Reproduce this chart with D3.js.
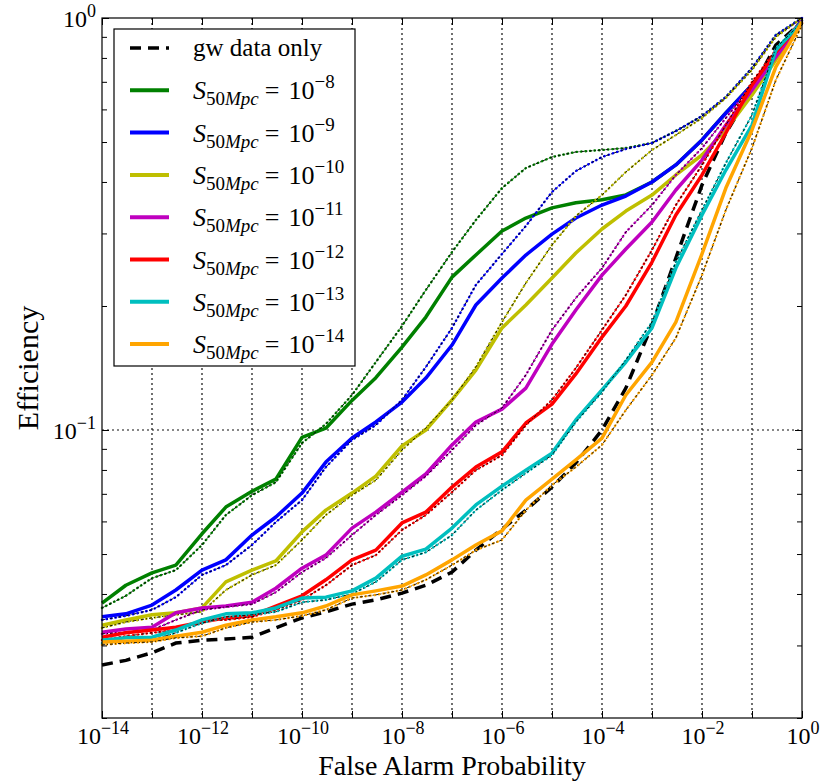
<!DOCTYPE html>
<html>
<head>
<meta charset="utf-8">
<script src="https://cdn.jsdelivr.net/npm/d3@7"></script>
<style>
  body { margin: 0; background: #fff; }
  svg { display: block; }
  text { font-family: "Liberation Serif", "DejaVu Serif", serif; fill: #000; }
</style>
</head>
<body>
<svg id="chart" width="821" height="781"></svg>
<script>
// false alarm probability grid (half decades)
var fap = [1e-14, 3e-14, 1e-13, 3e-13, 1e-12, 3e-12, 1e-11, 3e-11, 1e-10, 3e-10,
           1e-9, 3e-9, 1e-8, 3e-8, 1e-7, 3e-7, 1e-6, 3e-6, 1e-5, 3e-5,
           1e-4, 3e-4, 1e-3, 3e-3, 1e-2, 3e-2, 1e-1, 3e-1, 1];

// efficiency, gw data only
var gwOnly = [0.0269, 0.0276, 0.0288, 0.0304, 0.0309, 0.0311, 0.0314, 0.0331, 0.0350, 0.0362,
              0.0378, 0.0387, 0.0402, 0.0420, 0.0452, 0.0511, 0.0575, 0.0639, 0.0727, 0.0832,
              0.1, 0.1264, 0.1798, 0.2615, 0.3932, 0.5259, 0.6686, 0.860, 0.978];

// efficiency, thick curves
var s8 = [0.038, 0.042, 0.045, 0.047, 0.056, 0.065, 0.071, 0.076, 0.096, 0.101,
          0.118, 0.134, 0.159, 0.188, 0.235, 0.266, 0.304, 0.327, 0.346, 0.356,
          0.362, 0.372, 0.40, 0.44, 0.506, 0.588, 0.688, 0.813, 0.99];
var s9 = [0.0352, 0.0358, 0.0376, 0.0409, 0.0457, 0.0484, 0.0556, 0.0615, 0.0703, 0.0836,
          0.0956, 0.1046, 0.1169, 0.1337, 0.1608, 0.2011, 0.2338, 0.2659, 0.2989, 0.327,
          0.3516, 0.3698, 0.40, 0.44, 0.506, 0.588, 0.688, 0.813, 0.99];
var s10 = [0.0336, 0.0346, 0.0356, 0.0360, 0.0370, 0.0428, 0.0457, 0.0481, 0.0566, 0.0639,
           0.0703, 0.0773, 0.0915, 0.1, 0.1183, 0.1398, 0.1769, 0.2011, 0.2338, 0.2690,
           0.3075, 0.3400, 0.3718, 0.4159, 0.4650, 0.5348, 0.6503, 0.7908, 0.978];
var s11 = [0.0323, 0.0329, 0.0332, 0.0360, 0.0370, 0.0374, 0.0382, 0.0413, 0.0462, 0.0497,
           0.0578, 0.0632, 0.0707, 0.0782, 0.0920, 0.1046, 0.1124, 0.1264, 0.1617, 0.1956,
           0.2377, 0.2750, 0.3198, 0.3824, 0.4520, 0.5499, 0.6686, 0.8042, 0.978];
var s12 = [0.0314, 0.0322, 0.0327, 0.0332, 0.0342, 0.0350, 0.0354, 0.0374, 0.0396, 0.0433,
           0.0484, 0.0511, 0.0595, 0.0632, 0.0727, 0.0813, 0.0885, 0.1040, 0.1156, 0.1368,
           0.1681, 0.2000, 0.2557, 0.3325, 0.4159, 0.5259, 0.6877, 0.8270, 0.978];
var s13 = [0.0309, 0.0313, 0.0314, 0.0327, 0.0346, 0.0358, 0.0360, 0.0370, 0.0391, 0.0393,
           0.0407, 0.0437, 0.0494, 0.0514, 0.0578, 0.0658, 0.0731, 0.0799, 0.0879, 0.1058,
           0.1251, 0.1462, 0.1769, 0.2473, 0.3325, 0.4276, 0.5499, 0.8363, 0.978];
var s14 = [0.0306, 0.0307, 0.0309, 0.0316, 0.0323, 0.0336, 0.0346, 0.0352, 0.0360, 0.0374,
           0.0398, 0.0407, 0.0418, 0.0445, 0.0484, 0.0526, 0.0569, 0.0676, 0.0760, 0.0846,
           0.0956, 0.1216, 0.1462, 0.1828, 0.2675, 0.3866, 0.5348, 0.7605, 0.978];

// efficiency, thin dotted companions
var s8Thin = [0.0370, 0.0396, 0.0437, 0.0457, 0.0526, 0.0622, 0.0695, 0.0747, 0.0930, 0.1034,
              0.1216, 0.1462, 0.1788, 0.2187, 0.2704, 0.3233, 0.3866, 0.4324, 0.4599, 0.4730,
              0.4782, 0.4836, 0.4973, 0.5318, 0.5783, 0.6430, 0.7562, 0.9094, 1.0];
var s9Thin = [0.0346, 0.0354, 0.0366, 0.0393, 0.0445, 0.0470, 0.0526, 0.0598, 0.0676, 0.0813,
              0.0946, 0.1028, 0.1183, 0.1422, 0.1769, 0.2249, 0.2675, 0.3127, 0.3782, 0.4252,
              0.4599, 0.4809, 0.4973, 0.5318, 0.5783, 0.6430, 0.7562, 0.9094, 1.0];
var s10Thin = [0.0331, 0.0342, 0.0350, 0.0356, 0.0362, 0.0409, 0.0445, 0.0470, 0.0541, 0.0622,
               0.0695, 0.0756, 0.0894, 0.1011, 0.1183, 0.1422, 0.1828, 0.2274, 0.2812, 0.3307,
               0.3718, 0.4229, 0.4782, 0.5200, 0.5719, 0.6394, 0.7479, 0.8993, 1.0];
var s11Thin = [0.0320, 0.0323, 0.0327, 0.0346, 0.0366, 0.0372, 0.0378, 0.0404, 0.0452, 0.0489,
               0.0556, 0.0622, 0.0695, 0.0773, 0.0894, 0.1028, 0.1131, 0.1360, 0.1749, 0.2091,
               0.2473, 0.3023, 0.3516, 0.4159, 0.4836, 0.5719, 0.6877, 0.8363, 0.989];
var s12Thin = [0.0309, 0.0316, 0.0322, 0.0327, 0.0346, 0.0346, 0.0352, 0.0366, 0.0387, 0.0420,
               0.0470, 0.0497, 0.0572, 0.0622, 0.0707, 0.0799, 0.0869, 0.1028, 0.1183, 0.1414,
               0.1749, 0.2127, 0.2735, 0.3516, 0.4396, 0.5499, 0.6993, 0.8363, 0.989];
var s13Thin = [0.0304, 0.0307, 0.0309, 0.0322, 0.0340, 0.0352, 0.0356, 0.0362, 0.0382, 0.0387,
               0.0400, 0.0428, 0.0484, 0.0505, 0.0556, 0.0639, 0.0715, 0.0786, 0.0869, 0.1046,
               0.1237, 0.1479, 0.1828, 0.2557, 0.3420, 0.4446, 0.5815, 0.8455, 0.978];
var s14Thin = [0.0301, 0.0304, 0.0306, 0.0313, 0.0316, 0.0331, 0.0342, 0.0346, 0.0354, 0.0366,
               0.0391, 0.0398, 0.0409, 0.0433, 0.0470, 0.0511, 0.0541, 0.0639, 0.0735, 0.0813,
               0.0920, 0.1118, 0.1360, 0.1673, 0.2377, 0.3420, 0.4836, 0.7071, 0.962];

var exponents = [-8, -9, -10, -11, -12, -13, -14];
var colors = ['#008000', '#0000ff', '#bfbf00', '#bf00bf', '#ff0000', '#00bfbf', '#ffa500'];
var thick = [s8, s9, s10, s11, s12, s13, s14];
var thin = [s8Thin, s9Thin, s10Thin, s11Thin, s12Thin, s13Thin, s14Thin];

var xLabelExps = [-14, -12, -10, -8, -6, -4, -2, 0];
var yLabelExps = [-1, 0];

var svg = d3.select('#chart');
var plot = {l: 102, r: 802, t: 18, b: 718};

var x = d3.scaleLog().domain([1e-14, 1]).range([plot.l, plot.r]);
var y = d3.scaleLog().domain([0.02, 1]).range([plot.b, plot.t]);

var decades = d3.range(-14, 1).map(function(e) { return Math.pow(10, e); });
var yMinor = [0.02, 0.03, 0.04, 0.05, 0.06, 0.07, 0.08, 0.09, 0.2, 0.3, 0.4, 0.5, 0.6, 0.7, 0.8, 0.9];

// grid
var grid = svg.append('g');
grid.selectAll('.vgrid')
    .data(decades.slice(1, -1))
    .enter().append('line')
    .attr('x1', function(d) { return x(d); })
    .attr('x2', function(d) { return x(d); })
    .attr('y1', plot.t).attr('y2', plot.b)
    .attr('stroke', '#111').attr('stroke-width', 1.2)
    .attr('stroke-dasharray', '2,3');
grid.append('line')
    .attr('x1', plot.l).attr('x2', plot.r)
    .attr('y1', y(0.1)).attr('y2', y(0.1))
    .attr('stroke', '#111').attr('stroke-width', 1.2)
    .attr('stroke-dasharray', '2,3');

var line = d3.line()
    .x(function(d) { return x(d[0]); })
    .y(function(d) { return y(d[1]); });

function pairs(vals) {
    return vals.map(function(v, i) { return [fap[i], v]; });
}

var curves = svg.append('g');

// gw data only
curves.append('path')
    .attr('d', line(pairs(gwOnly)))
    .attr('fill', 'none').attr('stroke', '#000')
    .attr('stroke-width', 3.5)
    .attr('stroke-dasharray', '11,7');

thick.forEach(function(vals, i) {
    curves.append('path')
        .attr('d', line(pairs(vals)))
        .attr('fill', 'none').attr('stroke', colors[i])
        .attr('stroke-width', 3.5)
        .attr('stroke-linejoin', 'round');
    curves.append('path')
        .attr('d', line(pairs(thin[i])))
        .attr('fill', 'none').attr('stroke', colors[i])
        .attr('stroke-width', 2.4)
        .attr('stroke-linecap', 'round')
        .attr('stroke-dasharray', '0.5,4');
    curves.append('path')
        .attr('d', line(pairs(thin[i])))
        .attr('fill', 'none').attr('stroke', '#000')
        .attr('stroke-width', 0.9)
        .attr('stroke-dasharray', '3,2,1,2');
});

// axes with inward ticks
function clean(g) { g.select('.domain').remove(); g.selectAll('text').remove(); }

svg.append('g').attr('transform', 'translate(0,' + plot.b + ')')
    .call(d3.axisBottom(x).tickValues(decades).tickSize(-7)).call(clean);
svg.append('g').attr('transform', 'translate(0,' + plot.t + ')')
    .call(d3.axisTop(x).tickValues(decades).tickSize(-7)).call(clean);
svg.append('g').attr('transform', 'translate(' + plot.l + ',0)')
    .call(d3.axisLeft(y).tickValues([0.1, 1]).tickSize(-7)).call(clean);
svg.append('g').attr('transform', 'translate(' + plot.r + ',0)')
    .call(d3.axisRight(y).tickValues([0.1, 1]).tickSize(-7)).call(clean);
svg.append('g').attr('transform', 'translate(' + plot.l + ',0)')
    .call(d3.axisLeft(y).tickValues(yMinor).tickSize(-5)).call(clean);
svg.append('g').attr('transform', 'translate(' + plot.r + ',0)')
    .call(d3.axisRight(y).tickValues(yMinor).tickSize(-5)).call(clean);

svg.selectAll('.tick line').attr('stroke', '#000').attr('stroke-width', 1);

// frame
svg.append('rect')
    .attr('x', plot.l).attr('y', plot.t)
    .attr('width', plot.r - plot.l).attr('height', plot.b - plot.t)
    .attr('fill', 'none').attr('stroke', '#000').attr('stroke-width', 1.2);

// tick labels
function powLabel(sel, exp) {
    sel.append('tspan').attr('font-size', 24).text('10');
    sel.append('tspan').attr('font-size', 18).attr('dy', -10)
        .text(exp === 0 ? '0' : '\u2212' + Math.abs(exp));
}

svg.selectAll('.xlab')
    .data(xLabelExps)
    .enter().append('text')
    .attr('class', 'xlab')
    .attr('x', function(d) { return x(Math.pow(10, d)) + 1; })
    .attr('y', 744)
    .attr('text-anchor', 'middle')
    .each(function(d) { powLabel(d3.select(this), d); });

svg.selectAll('.ylab')
    .data(yLabelExps)
    .enter().append('text')
    .attr('class', 'ylab')
    .attr('x', 96)
    .attr('y', function(d) { return y(Math.pow(10, d)) + 9; })
    .attr('text-anchor', 'end')
    .each(function(d) { powLabel(d3.select(this), d); });

// axis titles
svg.append('text')
    .attr('x', (plot.l + plot.r) / 2).attr('y', 774.5)
    .attr('text-anchor', 'middle').attr('font-size', 28)
    .text('False Alarm Probability');
svg.append('text')
    .attr('transform', 'translate(38,' + ((plot.t + plot.b) / 2) + ') rotate(-90)')
    .attr('text-anchor', 'middle').attr('font-size', 30)
    .text('Efficiency');

// legend
var legend = svg.append('g');
legend.append('rect')
    .attr('x', 114).attr('y', 29).attr('width', 241).attr('height', 337)
    .attr('fill', '#fff').attr('stroke', '#000').attr('stroke-width', 1.2);

var rowY = function(i) { return 48 + i * 42.3; };

legend.append('line')
    .attr('x1', 130).attr('x2', 169).attr('y1', rowY(0)).attr('y2', rowY(0))
    .attr('stroke', '#000').attr('stroke-width', 3.5).attr('stroke-dasharray', '11,7');
legend.append('text')
    .attr('x', 193).attr('y', rowY(0) + 8).attr('font-size', 25)
    .text('gw data only');

exponents.forEach(function(e, i) {
    var yy = rowY(i + 1);
    legend.append('line')
        .attr('x1', 130).attr('x2', 169).attr('y1', yy).attr('y2', yy)
        .attr('stroke', colors[i]).attr('stroke-width', 4);
    var t = legend.append('text')
        .attr('x', 193).attr('y', yy + 9).attr('font-size', 26);
    t.append('tspan').attr('font-style', 'italic').text('S');
    t.append('tspan').attr('font-size', 19).attr('dy', 6).text('50');
    t.append('tspan').attr('font-size', 19).attr('font-style', 'italic').text('Mpc');
    t.append('tspan').attr('dy', -6).attr('dx', 6).text('=');
    t.append('tspan').attr('dx', 9).text('10');
    t.append('tspan').attr('font-size', 19).attr('dy', -11).text('\u2212' + Math.abs(e));
});
</script>
</body>
</html>
